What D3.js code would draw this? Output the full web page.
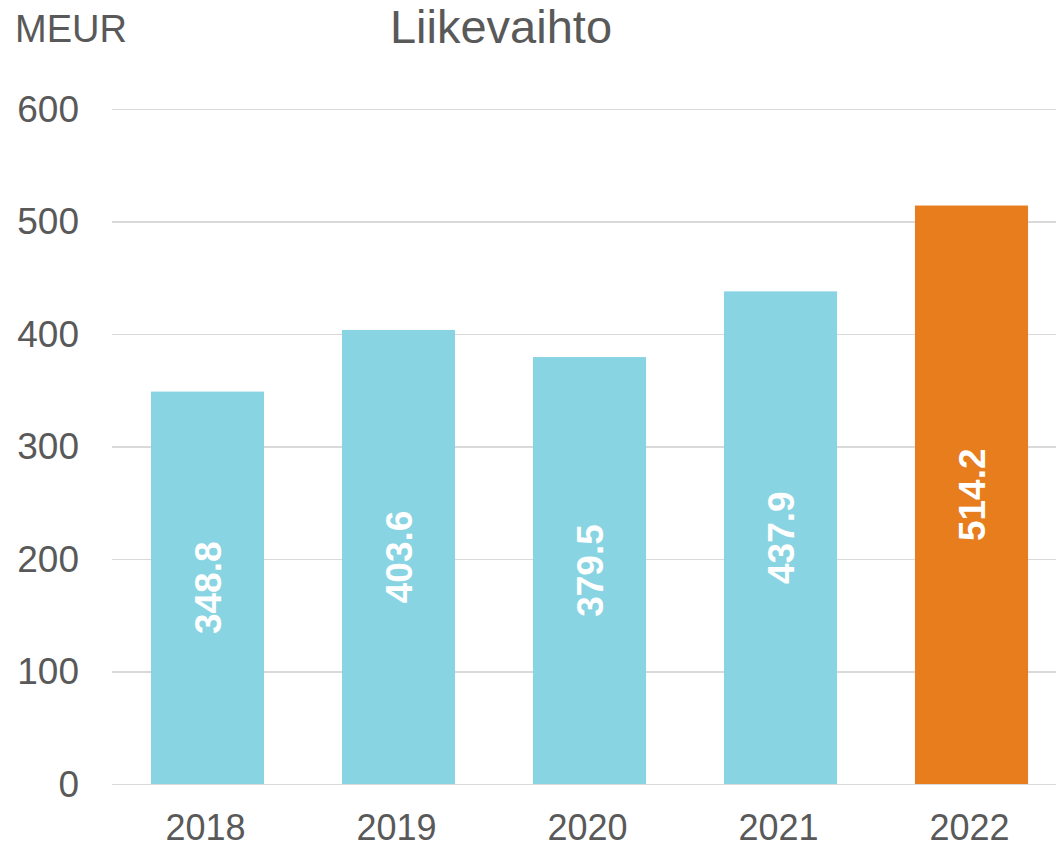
<!DOCTYPE html>
<meta charset="utf-8">
<style>
body {
  margin: 0;
  background-color: #ffffff;
}
text {
  font-family: "Liberation Sans", Arial, sans-serif;
  fill: #595959;
}
.grid line {
  stroke: #d9d9d9;
  stroke-width: 1.5px;
  shape-rendering: crispEdges;
}
.grid path {
  display: none;
}
.barLabel {
  fill: #ffffff;
  font-weight: bold;
}
</style>
<svg width="1056" height="846"></svg>
<script src="https://d3js.org/d3.v7.min.js"></script>
<script>

var years = ["2018", "2019", "2020", "2021", "2022"];
var values = [348.8, 403.6, 379.5, 437.9, 514.2];
var yTicks = [0, 100, 200, 300, 400, 500, 600];

var svg = d3.select("svg"),
    width = +svg.attr("width"),
    height = +svg.attr("height");

var plotLeft = 112, plotBottom = 784, plotTop = 109;

var x = d3.scaleBand()
    .domain(years)
    .range([plotLeft, 1067])
    .paddingInner(0.408)
    .paddingOuter(0.204);

var y = d3.scaleLinear()
    .domain([0, 600])
    .range([plotBottom, plotTop]);

// gridlines
svg.append("g")
    .attr("class", "grid")
    .attr("transform", "translate(" + plotLeft + ",0)")
    .call(d3.axisLeft(y).tickValues(yTicks).tickSize(-(width - plotLeft)).tickFormat(""));

// y tick labels
svg.append("g").selectAll("text")
    .data(yTicks)
    .enter().append("text")
    .attr("x", 79)
    .attr("y", function(d) { return y(d); })
    .attr("dy", "0.35em")
    .attr("text-anchor", "end")
    .style("font-size", "37px")
    .text(function(d) { return d; });

// bars
svg.append("g").selectAll("rect")
    .data(years)
    .enter().append("rect")
    .attr("x", function(d) { return x(d); })
    .attr("y", function(d, i) { return y(values[i]); })
    .attr("width", x.bandwidth())
    .attr("height", function(d, i) { return y(0) - y(values[i]); })
    .attr("fill", function(d, i) { return i === years.length - 1 ? "#e87d1e" : "#88d4e2"; });

// value labels, rotated inside bars
svg.append("g").selectAll("text")
    .data(years)
    .enter().append("text")
    .attr("class", "barLabel")
    .attr("transform", function(d, i) {
      var cx = x(d) + x.bandwidth() / 2,
          cy = (y(values[i]) + y(0)) / 2;
      return "translate(" + cx + "," + cy + ") rotate(-90)";
    })
    .attr("text-anchor", "middle")
    .attr("dy", "0.36em")
    .style("font-size", "37px")
    .text(function(d, i) { return values[i].toFixed(1); });

// x labels
svg.append("g").selectAll("text")
    .data(years)
    .enter().append("text")
    .attr("x", function(d) { return x(d) + x.bandwidth() / 2 - 2; })
    .attr("y", 840)
    .attr("text-anchor", "middle")
    .style("font-size", "36px")
    .text(function(d) { return d; });

// title and unit
svg.append("text")
    .attr("x", 501)
    .attr("y", 43)
    .attr("text-anchor", "middle")
    .style("font-size", "47px")
    .text("Liikevaihto");

svg.append("text")
    .attr("x", 15)
    .attr("y", 42)
    .style("font-size", "38px")
    .text("MEUR");

</script>
